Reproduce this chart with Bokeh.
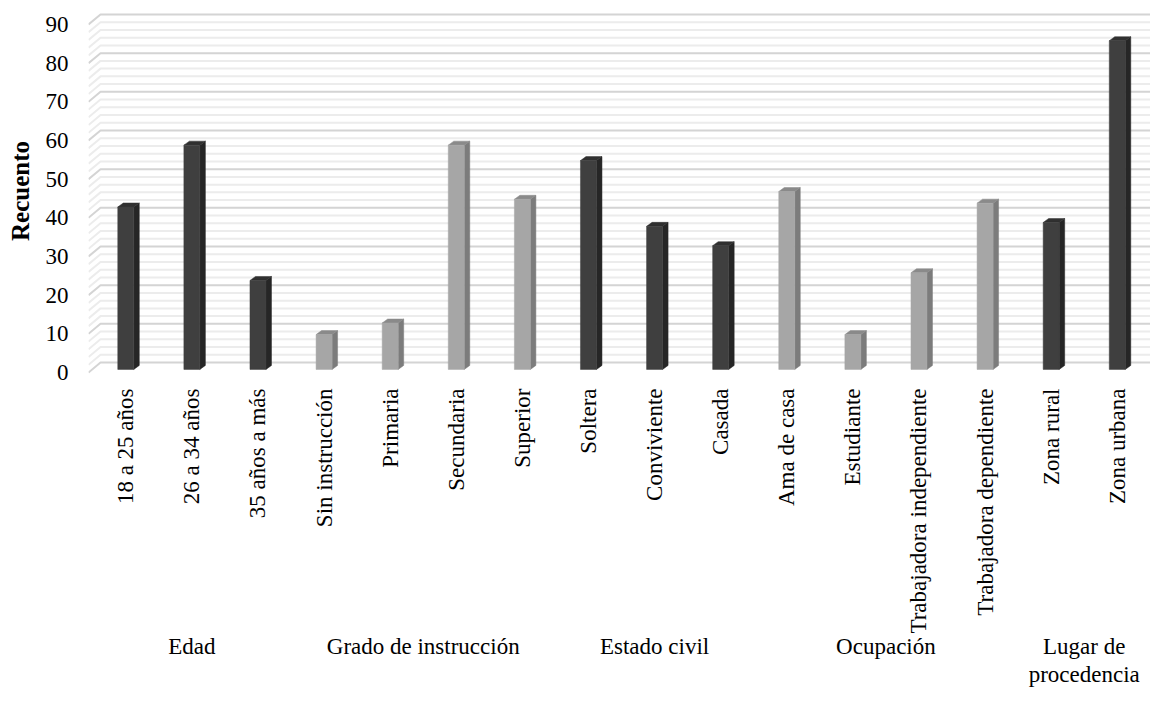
import math
from bokeh.plotting import figure
from bokeh.models import Range1d, FixedTicker, LinearAxis
from bokeh.embed import file_html
from bokeh.resources import INLINE

# ---- data ----
categories = ["18 a 25 años", "26 a 34 años", "35 años a más",
              "Sin instrucción", "Primaria", "Secundaria", "Superior",
              "Soltera", "Conviviente", "Casada",
              "Ama de casa", "Estudiante", "Trabajadora independiente", "Trabajadora dependiente",
              "Zona rural", "Zona urbana"]
values = [42, 58, 23, 9, 12, 58, 44, 54, 37, 32, 46, 9, 25, 43, 38, 85]
group_of = [0, 0, 0, 1, 1, 1, 1, 2, 2, 2, 3, 3, 3, 3, 4, 4]
groups = ["Edad", "Grado de instrucción", "Estado civil", "Ocupación", "Lugar de\nprocedencia"]
y_ticks = [0, 10, 20, 30, 40, 50, 60, 70, 80, 90]
minor_step = 2
y_title = "Recuento"

# ---- styles ----
FONT = "Liberation Serif"
FS = "23px"
front_col = ["#3f3f3f", "#a6a6a6"]
side_col = ["#262626", "#7c7c7c"]
top_col = ["#303030", "#8a8a8a"]

W, H = 1150, 713
left_b, right_b, top_b, bottom_b = 88, 0, 5, 337
px_x = 66.1   # px per category
px_y = 3.867  # px per unit

x0 = -0.564
x1 = x0 + (W - left_b - right_b) / px_x
y0 = -1.03
y1 = y0 + (H - top_b - bottom_b) / px_y

p = figure(width=W, height=H, output_backend="svg", toolbar_location=None,
           x_range=Range1d(x0, x1), y_range=Range1d(y0, y1),
           min_border_left=left_b, min_border_right=right_b,
           min_border_top=top_b, min_border_bottom=bottom_b)
p.outline_line_color = None
p.xgrid.visible = False
p.ygrid.visible = False
p.background_fill_color = "white"
p.border_fill_color = "white"

# 3D offsets (in data units)
gdx = 12 / px_x
gdy = 10 / px_y
hw = 8.0 / px_x
sdx = 5.5 / px_x
sdy = 4 / px_y
base = 0.8

# back-wall gridlines (minor then major)
vmax = y_ticks[-1]
minor_vals = [v for v in range(0, vmax + 1, minor_step) if v not in y_ticks]
for vals, col, lw in [(minor_vals, "#ececec", 2), (y_ticks, "#d4d4d4", 2)]:
    xs = [[x0, x0 + gdx, x1 + 1] for v in vals]
    ys = [[v, v + gdy, v + gdy] for v in vals]
    p.multi_line(xs=xs, ys=ys, line_color=col, line_width=lw)

# bars
fx, fy, sx, sy, tx, ty, fc, sc, tc = [], [], [], [], [], [], [], [], []
for i, v in enumerate(values):
    g = group_of[i] % 2
    l, r = i - hw, i + hw
    b, t = base, base + v
    fx.append([l, r, r, l]); fy.append([b, b, t, t])
    sx.append([r, r + sdx, r + sdx, r]); sy.append([b, b + sdy, t + sdy, t])
    tx.append([l, r, r + sdx, l + sdx]); ty.append([t, t, t + sdy, t + sdy])
    fc.append(front_col[g]); sc.append(side_col[g]); tc.append(top_col[g])

p.patches(xs=sx, ys=sy, fill_color=sc, line_color=sc, line_width=0.5)
p.patches(xs=tx, ys=ty, fill_color=tc, line_color=tc, line_width=0.5)
p.patches(xs=fx, ys=fy, fill_color=fc, line_color=fc, line_width=0.5)

# y axis
ya = p.yaxis[0]
ya.ticker = FixedTicker(ticks=y_ticks)
ya.axis_line_color = None
ya.major_tick_line_color = None
ya.minor_tick_line_color = None
ya.major_tick_out = 0
ya.major_tick_in = 0
ya.major_label_standoff = 20
ya.major_label_text_font = FONT
ya.major_label_text_font_size = FS
ya.major_label_text_color = "black"
ya.axis_label = y_title
ya.axis_label_text_font = FONT
ya.axis_label_text_font_size = "25px"
ya.axis_label_text_font_style = "bold"
ya.axis_label_text_color = "black"
ya.axis_label_standoff = 9

# x axis with category labels
xa = p.xaxis[0]
xa.ticker = FixedTicker(ticks=list(range(len(categories))))
xa.major_label_overrides = {i: c for i, c in enumerate(categories)}
xa.major_label_orientation = math.pi / 2
xa.axis_line_color = None
xa.major_tick_line_color = None
xa.minor_tick_line_color = None
xa.major_tick_out = 0
xa.major_tick_in = 0
xa.major_label_standoff = 12
xa.major_label_text_font = FONT
xa.major_label_text_font_size = FS
xa.major_label_text_color = "black"

# group axis
centers = []
for gi in range(len(groups)):
    idx = [i for i, g in enumerate(group_of) if g == gi]
    centers.append((idx[0] + idx[-1]) / 2)
ga = LinearAxis(ticker=FixedTicker(ticks=centers),
                major_label_overrides={c: groups[k] for k, c in enumerate(centers)})
ga.axis_line_color = None
ga.major_tick_line_color = None
ga.minor_tick_line_color = None
ga.major_tick_out = 0
ga.major_tick_in = 0
ga.major_label_standoff = -3
ga.major_label_text_font = FONT
ga.major_label_text_font_size = FS
ga.major_label_text_color = "black"
ga.major_label_text_line_height = 1.15
p.add_layout(ga, "below")

open("out.html", "w").write(file_html(p, INLINE))
